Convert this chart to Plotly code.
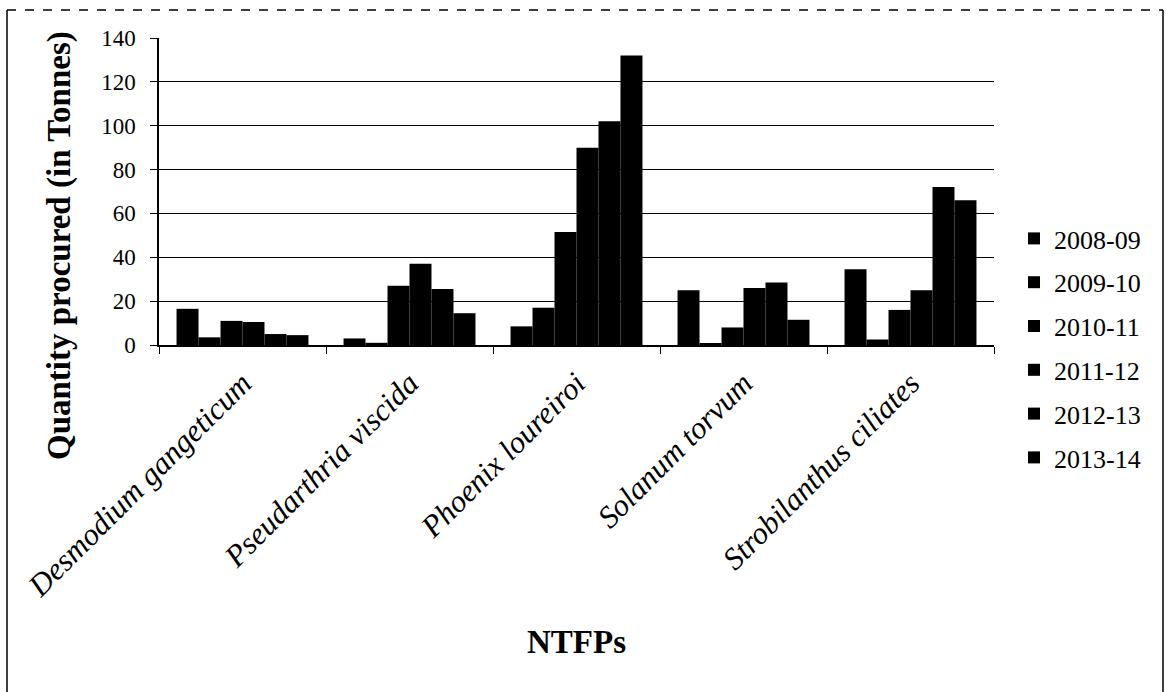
import plotly.graph_objects as go

categories = ["Desmodium gangeticum", "Pseudarthria viscida", "Phoenix loureiroi",
              "Solanum torvum", "Strobilanthus ciliates"]
years = ["2008-09", "2009-10", "2010-11", "2011-12", "2012-13", "2013-14"]
v_2008_09 = [16.5, 3, 8.5, 25, 34.5]
v_2009_10 = [3.5, 1, 17, 0.5, 2.5]
v_2010_11 = [11, 27, 51.5, 8, 16]
v_2011_12 = [10.5, 37, 90, 26, 25]
v_2012_13 = [5, 25.5, 102, 28.5, 72]
v_2013_14 = [4.5, 14.5, 132, 11.5, 66]
series = [v_2008_09, v_2009_10, v_2010_11, v_2011_12, v_2012_13, v_2013_14]
y_ticks = [0, 20, 40, 60, 80, 100, 120, 140]

FONT = "Liberation Serif, Times New Roman, serif"
W, H = 1166, 692
L, R, T, B = 159, 172, 38, 347
pw, ph = W - L - R, H - T - B

def px_x(x):
    return (x - L) / pw

def px_y(y):
    return 1 - (y - T) / ph

fig = go.Figure()
for yr, vals in zip(years, series):
    fig.add_trace(go.Bar(
        x=categories, y=vals, name=yr, legendgroup=yr,
        marker=dict(color="black", line=dict(width=0)),
    ))

fig.update_layout(
    width=W, height=H,
    margin=dict(l=L, r=R, t=T, b=B),
    paper_bgcolor="white", plot_bgcolor="white",
    barmode="group", bargap=0.21, bargroupgap=0,
    font=dict(family=FONT, color="black"),
    showlegend=True,
    legend=dict(
        x=px_x(1014), xanchor="left", y=px_y(348), yanchor="middle",
        font=dict(family=FONT, size=26, color="black"),
        tracegroupgap=7, itemwidth=30, bgcolor="rgba(0,0,0,0)",
    ),
    xaxis=dict(
        showline=True, linecolor="black", linewidth=1.5,
        ticks="outside", tickson="boundaries", ticklen=7, tickcolor="black",
        tickangle=-45, showgrid=False, ticklabelstandoff=6,
        tickfont=dict(family=FONT, size=31, color="black", style="italic"),
    ),
    yaxis=dict(
        range=[0, 140], tickvals=y_ticks,
        showline=True, linecolor="black", linewidth=1.5,
        ticks="outside", ticklen=7, tickcolor="black",
        showgrid=True, gridcolor="black", gridwidth=1,
        tickfont=dict(family=FONT, size=23, color="black"),
        ticklabelstandoff=10,
        zeroline=False,
    ),
    annotations=[
        dict(text="<b>Quantity procured (in Tonnes)</b>", xref="paper", yref="paper",
             x=px_x(59), y=px_y(246), xanchor="center", yanchor="middle",
             textangle=-90, showarrow=False,
             font=dict(family=FONT, size=33, color="black")),
        dict(text="<b>NTFPs</b>", xref="paper", yref="paper",
             x=0.5, y=px_y(642), xanchor="center", yanchor="middle",
             showarrow=False, font=dict(family=FONT, size=33, color="black")),
    ],
    shapes=[
        dict(type="line", xref="paper", yref="paper",
             x0=px_x(7), x1=px_x(1163), y0=px_y(10), y1=px_y(10),
             line=dict(color="black", width=1.5, dash="dash")),
        dict(type="line", xref="paper", yref="paper",
             x0=px_x(7), x1=px_x(7), y0=px_y(10), y1=px_y(692),
             line=dict(color="black", width=1.5)),
        dict(type="line", xref="paper", yref="paper",
             x0=px_x(1163), x1=px_x(1163), y0=px_y(10), y1=px_y(692),
             line=dict(color="black", width=1.5)),
    ],
)

fig.write_html("out.html")
